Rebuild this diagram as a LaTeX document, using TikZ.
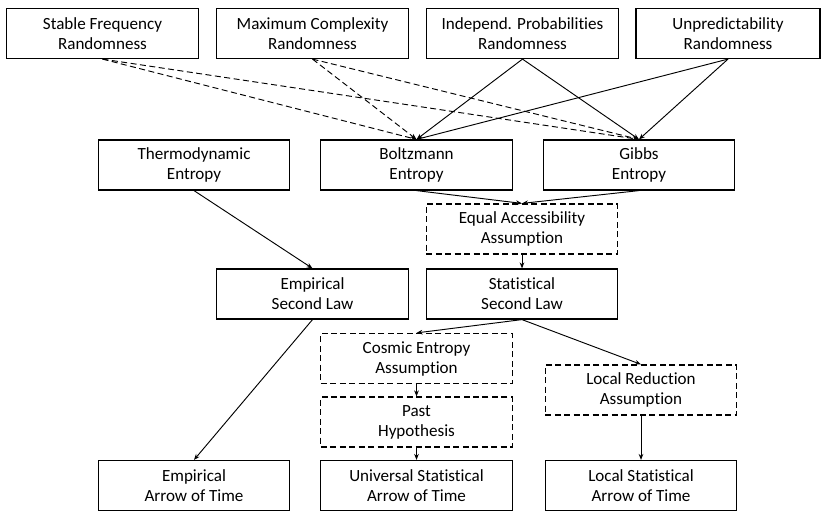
\documentclass[tikz,border=0pt]{standalone}
\usepackage{fontspec}
\setmainfont{Carlito}[Ligatures=NoCommon]
\usepackage{tikz}
\usetikzlibrary{positioning,calc,arrows.meta}
\tikzstyle{box}= [draw, line width=0.9pt, inner sep=0pt, minimum width=143.5pt, minimum height=37.5pt, align=center, font=\fontsize{12.8}{15}\selectfont]
\tikzstyle{dbox}= [box, dash pattern=on 4.5pt off 2.6pt]
\tikzstyle{arr}= [-{Stealth[length=4.5pt,width=3.5pt]}, line width=0.7pt]
\tikzstyle{darr}= [arr, dash pattern=on 4.5pt off 2.6pt]

\begin{document}
\begin{tikzpicture}[x=0.75pt,y=-0.75pt]
				\useasboundingbox (0,0) rectangle (821,511);
				% randomness
				\node[box] (sf) at (102.5, 33.5) {Stable Frequency\\Randomness};
				\node[box] (mc) at (312.5, 33.5) {Maximum Complexity\\Randomness};
				\node[box] (ip) at (522.5, 33.5) {Independ. Probabilities\\Randomness};
				\node[box, minimum width=138pt] (ur) at (728, 33.5) {Unpredictability\\Randomness};
				% entropy
				\node[box] (te) at (194, 165) {Thermodynamic\\Entropy};
				\node[box] (be) at (416.5, 165) {Boltzmann\\Entropy};
				\node[box] (ge) at (639, 165) {Gibbs\\Entropy};
				\node[dbox] (ea) at (522, 229) {Equal Accessibility\\Assumption};
				% second law
				\node[box] (esl) at (312.5, 294) {Empirical\\Second Law};
				\node[box] (ssl) at (522, 294) {Statistical\\Second Law};
				\node[dbox] (cea) at (416.5, 358.5) {Cosmic Entropy\\Assumption};
				\node[dbox] (ph) at (416.5, 422) {Past\\Hypothesis};
				\node[dbox] (lra) at (641, 390) {Local Reduction\\Assumption};
				% arrows of time
				\node[box] (eat) at (194, 485.5) {Empirical\\Arrow of Time};
				\node[box] (usat) at (416.5, 485.5) {Universal Statistical\\Arrow of Time};
				\node[box] (lsat) at (641, 485.5) {Local Statistical\\Arrow of Time};
				
				\draw[darr](sf.south) -- (be.north);
				\draw[darr](sf.south) -- (ge.north);
				\draw[darr](mc.south) -- (be.north);
				\draw[darr](mc.south) -- (ge.north);
				\draw[arr](ip.south) -- (be.north);
				\draw[arr](ip.south) -- (ge.north);
				\draw[arr](ur.south) -- (be.north);
				\draw[arr](ur.south) -- (ge.north);
				\draw[arr](be.south) -- (ea.north);
				\draw[arr](ge.south) -- (ea.north);
				\draw[arr](ea) -- (ssl);
				\draw[arr](te.south) -- (esl.north);
				\draw[arr](esl.south) -- (eat.north);
				\draw[arr](ssl.south) -- (cea.north);
				\draw[arr](ssl.south) -- (lra.north);
				\draw[arr](cea) -- (ph);
				\draw[arr](ph) -- (usat);
				\draw[arr](lra) -- (lsat);
			\end{tikzpicture}
\end{document}
